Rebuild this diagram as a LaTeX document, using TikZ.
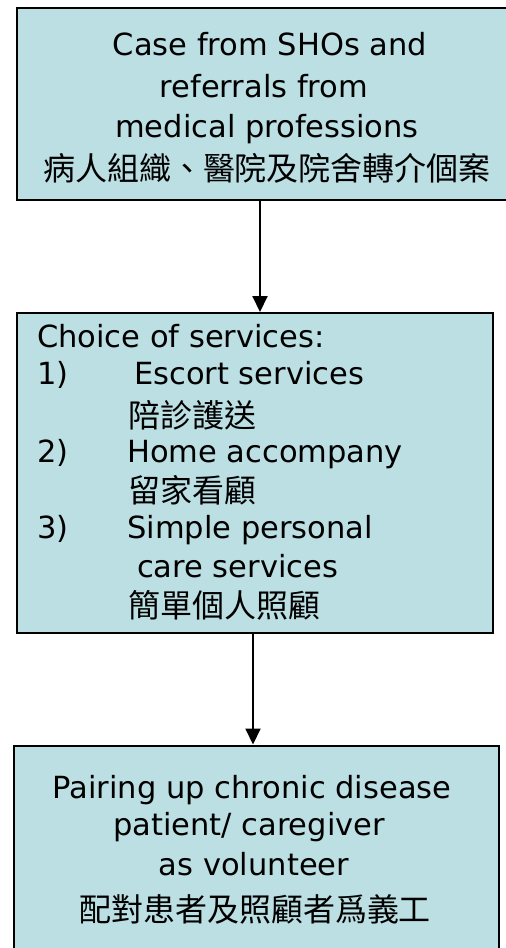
\documentclass[tikz,border=0pt]{standalone}
\usepackage{fontspec}
\setmainfont{DejaVu Sans}
\newfontfamily\cjk{Noto Sans CJK TC}
\usetikzlibrary{arrows.meta}
\definecolor{boxfill}{RGB}{187,223,227}
\begin{document}
\begin{tikzpicture}[x=1pt,y=-1pt,
  box/.style={draw=black, line width=2pt, fill=boxfill, rectangle, inner sep=0pt},
  en/.style={font=\fontsize{30.5}{36}\selectfont, inner sep=0pt, anchor=base},
  enl/.style={en, anchor=base west},
  zh/.style={font=\cjk\fontsize{32}{38}\selectfont, inner sep=0pt, anchor=base},
  zhl/.style={font=\cjk\fontsize{32}{38}\selectfont, inner sep=0pt, anchor=base west},
  flow/.style={line width=2pt, -{Triangle[length=16pt,width=15pt]}}]
\useasboundingbox (0,0) rectangle (506,948);
\begin{scope}
\clip (0,0) rectangle (506,948);
\node[box, minimum width=504pt, minimum height=192pt] (b1) at (269,104) {};
\node[box, minimum width=476pt, minimum height=320pt] (b2) at (255,473) {};
\node[box, minimum width=485pt, minimum height=224pt] (b3) at (256,857.5) {};
\end{scope}
% top box text
\node[en] (t1) at (270,55) {Case from SHOs and};
\node[en] (t2) at (264,97) {referrals from};
\node[en] (t3) at (267,137) {medical professions};
\node[zh] (t4) at (267,180) {病人組織、醫院及院舍轉介個案};
% middle box text
\node[enl] (m1) at (37,347) {Choice of services:};
\node[enl] (m2n) at (37,384) {1)};
\node[enl] (m2) at (134,384) {Escort services};
\node[zhl] (m3) at (128,427) {陪診護送};
\node[enl] (m4n) at (37,462) {2)};
\node[enl] (m4) at (127,462) {Home accompany};
\node[zhl] (m5) at (128,502) {留家看顧};
\node[enl] (m6n) at (37,538) {3)};
\node[enl] (m6) at (127,538) {Simple personal};
\node[enl] (m7) at (137,577) {care services};
\node[zhl] (m8) at (128,617) {簡單個人照顧};
% bottom box text
\node[en] (p1) at (252,798) {Pairing up chronic disease};
\node[en] (p2) at (249,835) {patient/ caregiver};
\node[en] (p3) at (254,875) {as volunteer};
\node[zh] (p4) at (255,921) {配對患者及照顧者爲義工};
% connectors
\coordinate (x1) at (260,0);
\coordinate (x2) at (253,0);
\draw[flow] (b1.south -| x1) -- (b2.north -| x1);
\draw[flow] (b2.south -| x2) -- (b3.north -| x2);
\end{tikzpicture}
\end{document}
